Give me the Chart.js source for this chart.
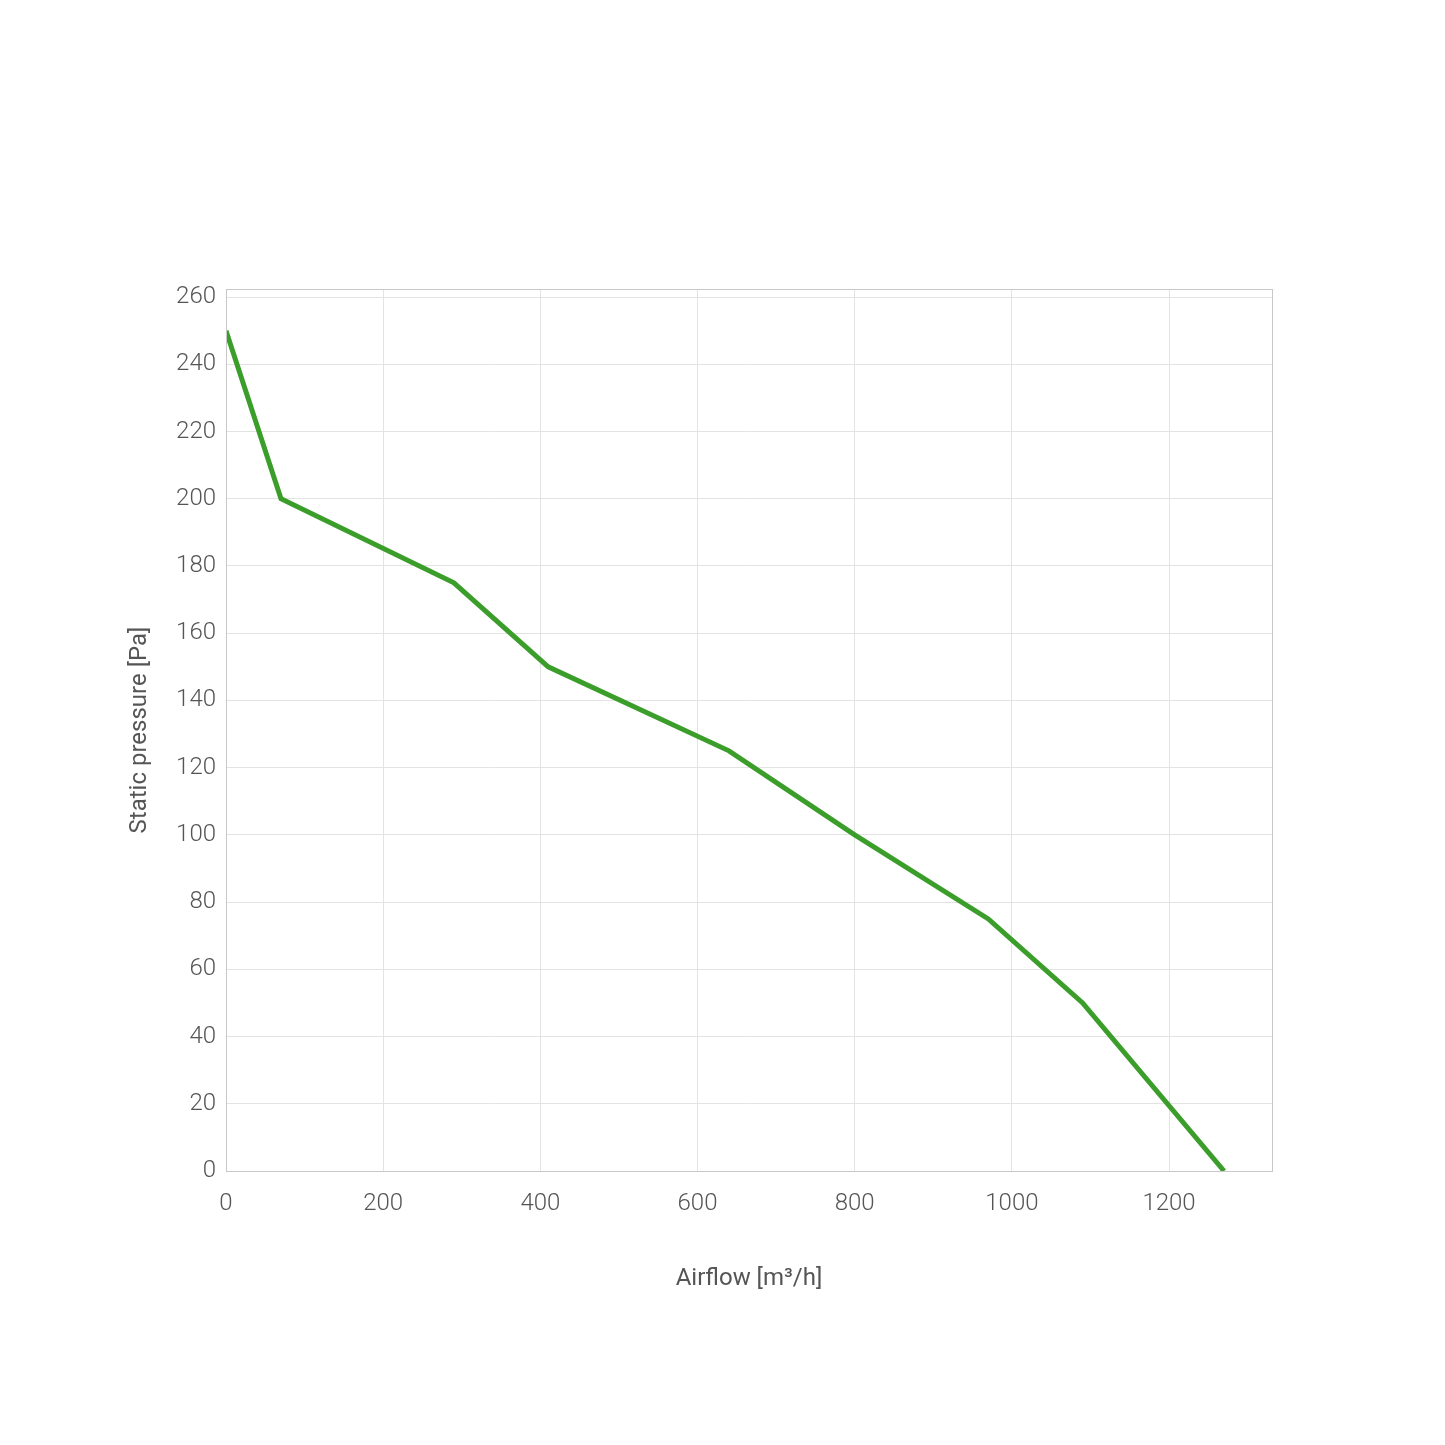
<!DOCTYPE html>
<html>
<head>
<meta charset="utf-8">
<script src="https://cdn.jsdelivr.net/npm/chart.js@4"></script>
<style>
  html, body { margin: 0; padding: 0; background: #fff; }
  #wrap { width: 1445px; height: 1445px; }
</style>
</head>
<body>
<div id="wrap"><canvas id="fanChart" width="1445" height="1445"></canvas></div>
<script>
const airflow = [0, 70, 290, 410, 640, 800, 970, 1090, 1270];
const pressure = [250, 200, 175, 150, 125, 100, 75, 50, 0];
const xTicks = [0, 200, 400, 600, 800, 1000, 1200];
const yTicks = [0, 20, 40, 60, 80, 100, 120, 140, 160, 180, 200, 220, 240, 260];

const frame = {
    id: 'frame',
    afterDatasetsDraw(chart) {
        const a = chart.chartArea;
        const c = chart.ctx;
        c.save();
        c.strokeStyle = '#c8c8c8';
        c.lineWidth = 1;
        c.strokeRect(a.left + 0.5, a.top + 0.5, a.right - a.left, a.bottom - a.top);
        c.restore();
    }
};

const tickFont = { family: 'Roboto', size: 24, weight: 300 };
const titleFont = { family: 'Roboto', size: 24 };

new Chart(document.getElementById('fanChart'), {
    type: 'line',
    data: {
        datasets: [{
            data: airflow.map((x, i) => ({ x: x, y: pressure[i] })),
            borderColor: '#3b9e2b',
            borderWidth: 5,
            pointRadius: 0,
            fill: false,
            tension: 0
        }]
    },
    options: {
        responsive: false,
        animation: false,
        layout: { padding: { left: 122, top: 289, right: 173, bottom: 152 } },
        plugins: { legend: { display: false }, tooltip: { enabled: false } },
        scales: {
            x: {
                type: 'linear',
                min: 0,
                max: 1331,
                afterBuildTicks: s => { s.ticks = xTicks.map(v => ({ value: v })); },
                afterFit: s => { s.height = 122; },
                grid: { color: '#e3e3e3', drawTicks: false },
                border: { color: '#c8c8c8' },
                ticks: { color: '#555', font: tickFont, padding: 19, maxRotation: 0, callback: v => String(v) },
                title: {
                    display: true,
                    text: 'Airflow [m³/h]',
                    color: '#555',
                    font: titleFont,
                    padding: 0
                }
            },
            y: {
                min: 0,
                max: 262.4,
                afterBuildTicks: s => { s.ticks = yTicks.map(v => ({ value: v })); },
                afterFit: s => { s.width = 104; },
                grid: { color: '#e3e3e3', drawTicks: false },
                border: { color: '#c8c8c8' },
                ticks: { color: '#555', font: tickFont, padding: 10, callback: v => String(v) },
                title: {
                    display: true,
                    text: 'Static pressure [Pa]',
                    color: '#555',
                    font: titleFont,
                    padding: 4
                }
            }
        }
    },
    plugins: [frame]
});
</script>
</body>
</html>
